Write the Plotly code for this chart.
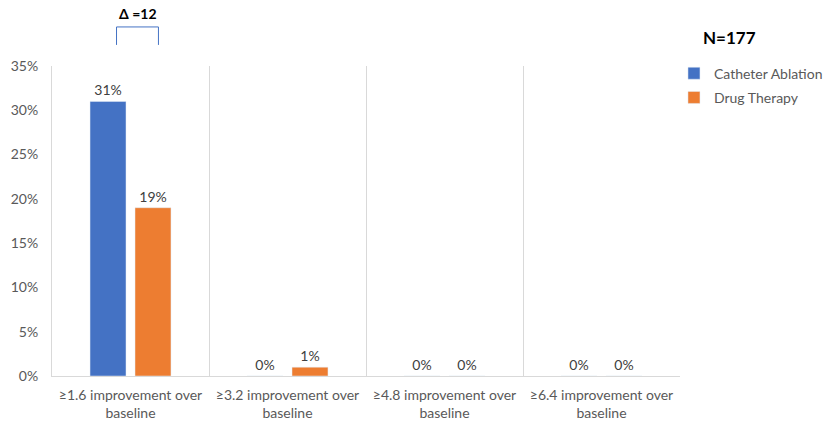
import plotly.graph_objects as go

categories = ["≥1.6 improvement over<br>baseline", "≥3.2 improvement over<br>baseline",
              "≥4.8 improvement over<br>baseline", "≥6.4 improvement over<br>baseline"]
catheter = [0.31, 0.0, 0.0, 0.0]
drug = [0.19, 0.01, 0.0, 0.0]
catheter_labels = ["31%", "0%", "0%", "0%"]
drug_labels = ["19%", "1%", "0%", "0%"]
y_ticks = [0, 0.05, 0.10, 0.15, 0.20, 0.25, 0.30, 0.35]
y_ticktext = ["0%", "5%", "10%", "15%", "20%", "25%", "30%", "35%"]

FONT = "Lato, Carlito, Calibri, sans-serif"

fig = go.Figure()
fig.add_trace(go.Bar(name="Catheter Ablation", x=categories, y=catheter, legendgroup="a",
                     marker_color="#4472C4", text=catheter_labels, textposition="outside",
                     textfont=dict(color="#404040", size=14), cliponaxis=False))
fig.add_trace(go.Bar(name="Drug Therapy", x=categories, y=drug, legendgroup="b",
                     marker_color="#ED7D31", text=drug_labels, textposition="outside",
                     textfont=dict(color="#404040", size=14), cliponaxis=False))

fig.update_layout(
    width=825, height=424,
    margin=dict(l=52, r=145, t=66, b=48, autoexpand=False),
    paper_bgcolor="white", plot_bgcolor="white",
    font=dict(family=FONT, size=14, color="#595959"),
    barmode="group", bargap=0.427, bargroupgap=0.2,
    legend=dict(x=0.9904, y=1.027, xanchor="left", yanchor="top",
                font=dict(size=14, color="#595959"), itemwidth=30,
                tracegroupgap=3, bgcolor="rgba(0,0,0,0)"),
)
fig.update_xaxes(type="category", tickson="boundaries", showgrid=True, gridcolor="#D9D9D9",
                 gridwidth=1, showline=True, linecolor="#D9D9D9", ticks="",
                 tickfont=dict(size=14, color="#595959"), range=[-0.5, 3.5],
                 automargin=False, ticklabelstandoff=6)
fig.update_yaxes(range=[0, 0.35], tickvals=y_ticks, ticktext=y_ticktext, showgrid=False,
                 showline=True, linecolor="#D9D9D9", ticks="", zeroline=False,
                 tickfont=dict(size=14, color="#595959"), automargin=False,
                 ticklabelstandoff=10)

# delta bracket
fig.add_shape(type="path", xref="x", yref="paper",
              path="M -0.089 1.068 L -0.089 1.126 L 0.178 1.126 L 0.178 1.068",
              line=dict(color="#4472C4", width=1))
fig.add_annotation(x=0.045, xref="x", y=1.168, yref="paper", text="<b>Δ =12</b>",
                   xanchor="center", yanchor="middle",
                   showarrow=False, font=dict(size=14, color="#000000"))
fig.add_annotation(x=1.033, xref="paper", y=1.0935, yref="paper", text="<b>N=177</b>",
                   xanchor="left", yanchor="middle",
                   showarrow=False, font=dict(size=17, color="#000000"))

fig.write_html("out.html", config={"displayModeBar": False},
               post_script="document.body.style.margin='0';")
